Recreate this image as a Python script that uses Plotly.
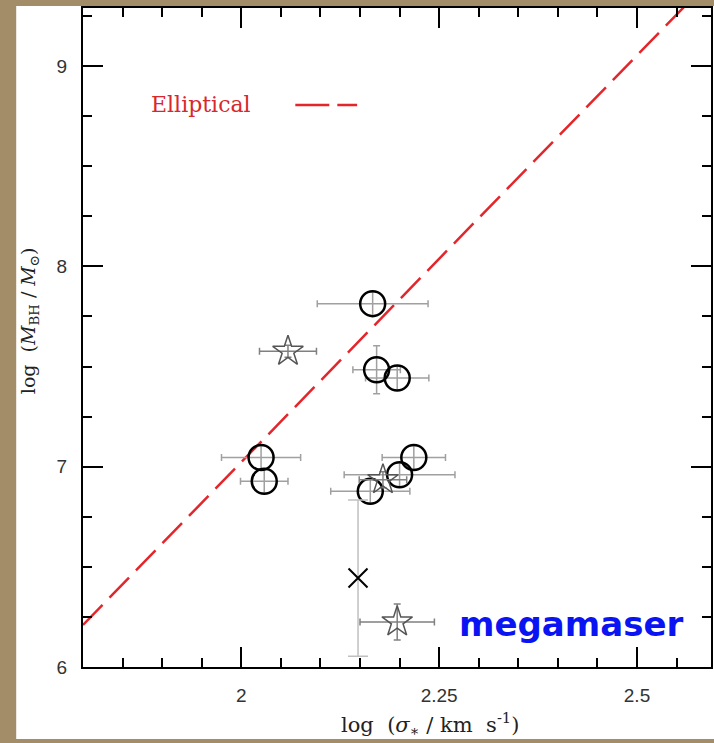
import plotly.graph_objects as go

# ---- data ----
circ_x = [2.166, 2.171, 2.197, 2.025, 2.029, 2.218, 2.200, 2.163]
circ_y = [7.814, 7.484, 7.443, 7.046, 6.927, 7.046, 6.960, 6.877]
circ_xerr = [0.07, 0.03, 0.04, 0.05, 0.03, 0.04, 0.07, 0.05]
circ_yerr = [0.06, 0.12, 0.06, 0.06, 0.06, 0.06, 0.06, 0.06]

star_x = [2.059, 2.179, 2.197]
star_y = [7.576, 6.935, 6.225]
star_xerr = [0.036, 0.03, 0.047]
star_yerr = [0.03, 0.04, 0.09]

cross_x = [2.1475]
cross_y = [6.444]
cross_yerr = [0.39]

ell_x = [1.8, 2.6]
ell_y = [6.21, 9.46]

x_range = [1.8, 2.5935]
y_range = [6.0, 9.29]

TAN = "#a38d68"
SERIF = "DejaVu Serif"
SANS = "Liberation Sans"

fig = go.Figure()

fig.add_trace(go.Scatter(
    x=ell_x, y=ell_y, mode="lines",
    line=dict(color="#e3262b", width=2.5, dash="28px,10px"),
    hoverinfo="skip", showlegend=False))

fig.add_trace(go.Scatter(
    x=circ_x, y=circ_y, mode="markers",
    marker=dict(symbol="circle-open", size=25, color="black",
                line=dict(color="black", width=2.5)),
    error_x=dict(type="data", array=circ_xerr, color="#a0a0a0", thickness=1.5, width=3.5),
    error_y=dict(type="data", array=circ_yerr, color="#a0a0a0", thickness=1.5, width=3.5),
    showlegend=False))

fig.add_trace(go.Scatter(
    x=star_x, y=star_y, mode="markers",
    marker=dict(symbol="star-open", size=23, color="#555555",
                line=dict(color="#555555", width=1.5)),
    error_x=dict(type="data", array=star_xerr, color="#808080", thickness=1.5, width=3.5),
    error_y=dict(type="data", array=star_yerr, color="#808080", thickness=1.5, width=3.5),
    showlegend=False))

fig.add_trace(go.Scatter(
    x=cross_x, y=cross_y, mode="markers",
    marker=dict(symbol="x-thin-open", size=19, color="black",
                line=dict(color="black", width=2)),
    error_y=dict(type="data", array=cross_yerr, color="#c0c0c0", thickness=1.5, width=10),
    showlegend=False))

axis_common = dict(
    showline=True, linecolor="black", linewidth=2, mirror="allticks",
    ticks="inside", ticklen=20, tickwidth=2, tickcolor="black",
    showgrid=False, zeroline=False,
    tickfont=dict(family=SANS, size=19, color="#333333"),
)

fig.update_xaxes(range=x_range, tick0=2, dtick=0.25, ticklabelstandoff=10,
                 minor=dict(dtick=0.05, ticks="inside", ticklen=9, tickwidth=1.5,
                            tickcolor="black", showgrid=False),
                 **axis_common)
fig.update_yaxes(range=y_range, tick0=6, dtick=1, ticklabelstandoff=10,
                 minor=dict(dtick=0.25, ticks="inside", ticklen=9, tickwidth=1.5,
                            tickcolor="black", showgrid=False),
                 **axis_common)

W, H = 714, 743
L, R, T, B = 83, 1, 8, 76
pw, ph = W - L - R, H - T - B

def px(xp):
    return (xp - L) / pw

def py(yp):
    return (H - B - yp) / ph

shapes = [
    dict(type="rect", xref="paper", yref="paper", layer="below",
         x0=px(16), x1=px(720), y0=py(739), y1=py(6),
         fillcolor="white", line=dict(width=0)),
    dict(type="line", xref="paper", yref="paper",
         x0=px(296), x1=px(358), y0=py(105), y1=py(105),
         line=dict(color="#e3262b", width=2.5, dash="34px,8px")),
]

annotations = [
    dict(text="Elliptical", xref="paper", yref="paper", x=px(149), y=py(105),
         xanchor="left", yanchor="middle", showarrow=False,
         font=dict(family=SERIF, size=22, color="#d8282c")),
    dict(text="log  (<i>σ</i><sub>∗</sub> / km  s<sup>-1</sup>)", xref="paper", yref="paper",
         x=px(431), y=py(724), xanchor="center", yanchor="middle", showarrow=False,
         font=dict(family=SERIF, size=21, color="#222222")),
    dict(text="log  (<i>M</i><sub>BH</sub> / <i>M</i><sub>⊙</sub>)", xref="paper", yref="paper",
         x=px(29), y=py(321), xanchor="center", yanchor="middle", showarrow=False,
         textangle=-90, font=dict(family=SERIF, size=19, color="#222222")),
    dict(text="<b>megamaser</b>", xref="paper", yref="paper",
         x=px(573), y=py(624), xanchor="center", yanchor="middle", showarrow=False,
         font=dict(family="DejaVu Sans", size=34, color="#0a14f2")),
]

fig.update_layout(
    width=W, height=H,
    margin=dict(l=L, r=R, t=T, b=B, pad=0),
    paper_bgcolor=TAN, plot_bgcolor="white",
    shapes=shapes, annotations=annotations,
    showlegend=False,
)

fig.write_html("out.html")
